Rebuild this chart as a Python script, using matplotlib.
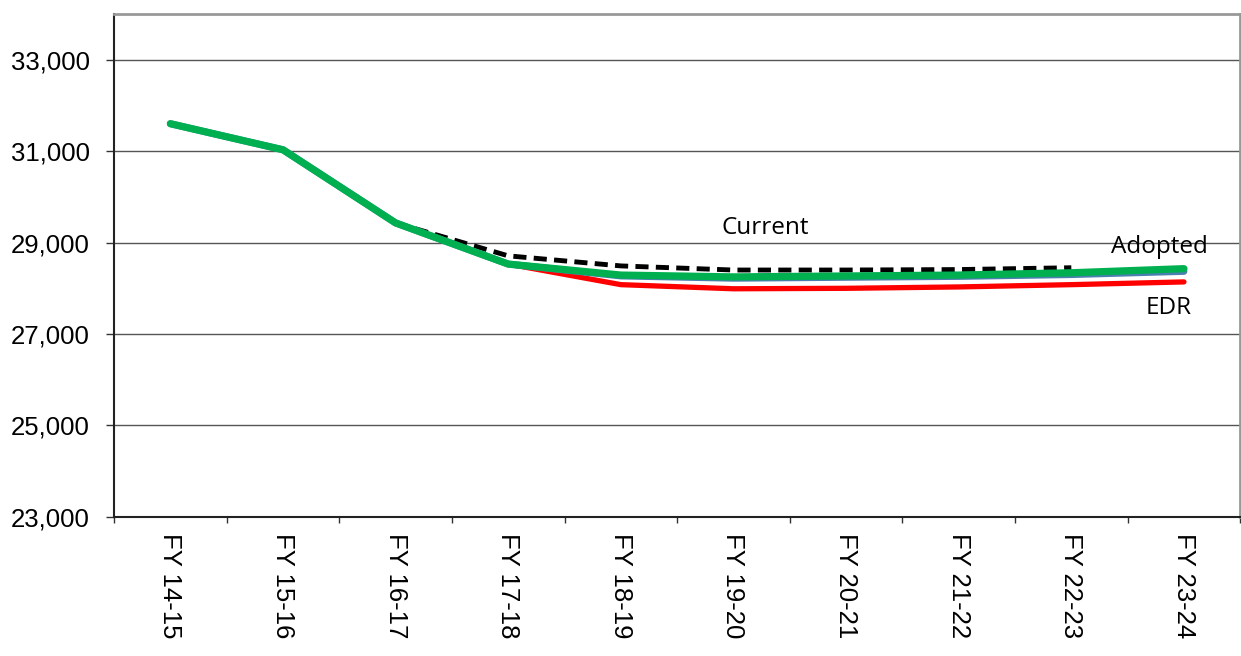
import numpy as np
import matplotlib.pyplot as plt
from matplotlib.ticker import FuncFormatter, FixedLocator

# data
years = ['FY 14-15', 'FY 15-16', 'FY 16-17', 'FY 17-18', 'FY 18-19',
         'FY 19-20', 'FY 20-21', 'FY 21-22', 'FY 22-23', 'FY 23-24']
current = [None, None, 29430, 28710, 28490, 28400, 28400, 28410, 28450, None]
edr = [None, None, None, 28530, 28080, 27990, 28000, 28030, 28080, 28140]
blue = [31600, 31030, 29430, 28530, 28270, 28220, 28240, 28260, 28300, 28370]
adopted = [31600, 31030, 29430, 28530, 28290, 28250, 28270, 28290, 28340, 28430]

x = np.arange(len(years))


def to_arr(v):
    return np.array([np.nan if a is None else a for a in v], dtype=float)


fig = plt.figure(figsize=(12.41, 6.56), dpi=100)
ax = fig.add_axes([0.0919, 0.212, 0.9075, 0.7667])

ax.plot(x, to_arr(edr), color='#ff0000', lw=3.8, solid_capstyle='round', zorder=3)
ax.plot(x, to_arr(blue), color='#4a7fb0', lw=5, solid_capstyle='round', zorder=4)
ax.plot(x, to_arr(adopted), color='#00b050', lw=5.2, solid_capstyle='round', zorder=5)
ax.plot(x, to_arr(current), color='black', lw=3.5, ls=(0, (2.7, 1.5)), zorder=2)

ax.set_xlim(-0.5, len(years) - 0.5)
ax.set_ylim(23000, 34000)
ax.set_yticks([23000, 25000, 27000, 29000, 31000, 33000])
ax.yaxis.set_major_formatter(FuncFormatter(lambda v, p: f'{int(v):,}'))
ax.grid(axis='y', color='#555555', lw=1)
ax.set_axisbelow(True)

ax.set_xticks(x)
ax.set_xticklabels(years, rotation=-90, fontsize=18.5, family='Liberation Sans')
ax.tick_params(axis='x', length=0, pad=11.5)
ax.xaxis.set_minor_locator(FixedLocator(np.arange(-0.5, len(years), 1)))
ax.tick_params(axis='x', which='minor', length=4.5, width=1, color='#333333')
for lab in ax.get_yticklabels():
    lab.set_family('Liberation Sans')
ax.tick_params(axis='y', labelsize=18.5, length=5.5, width=1, color='#333333', pad=12)

ax.spines['left'].set_color('#222222')
ax.spines['bottom'].set_color('#222222')
ax.spines['left'].set_linewidth(1.5)
ax.spines['bottom'].set_linewidth(1.5)
ax.spines['top'].set_color('#999999')
ax.spines['right'].set_color('#999999')
ax.spines['top'].set_linewidth(2)
ax.spines['right'].set_linewidth(2)

lab_font = dict(fontsize=17.5, family='Open Sans', color='black')
ax.text(5.28, 29330, 'Current', ha='center', va='center', **lab_font)
ax.text(8.78, 28910, 'Adopted', ha='center', va='center', **lab_font)
ax.text(8.86, 27580, 'EDR', ha='center', va='center', **lab_font)

fig.savefig('out.png', dpi=100)
